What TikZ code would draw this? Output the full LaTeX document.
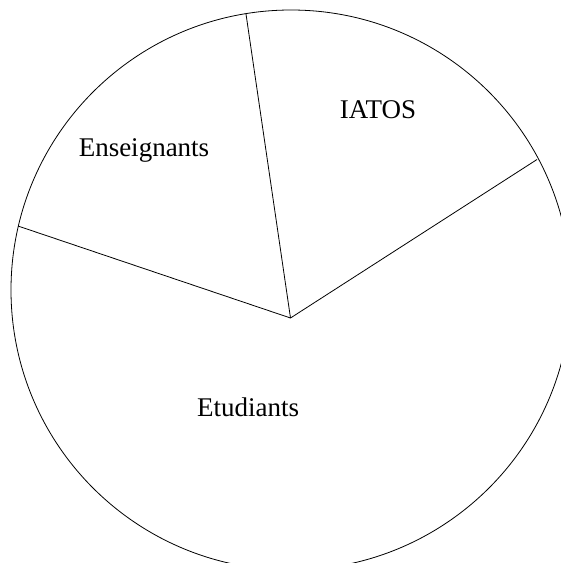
\documentclass[tikz,border=0pt]{standalone}
\usepackage{fontspec}
\setmainfont{Liberation Serif}
\begin{document}
\begin{tikzpicture}[x=1pt,y=-1pt,
  edge/.style={draw=black,line width=0.8pt},
  lbl/.style={anchor=base,inner sep=0pt,font=\fontsize{27}{30}\selectfont}]
\useasboundingbox (0,0) rectangle (561,563);
\clip (0,0) rectangle (561,563);
\coordinate (O) at (291,290);
\coordinate (P) at (290.5,318);
\coordinate (A) at (246,14);
\coordinate (B) at (537,159.5);
\coordinate (C) at (18,226);
\draw[edge] (O) circle[radius=280];
\draw[edge] (P) -- (A);
\draw[edge] (P) -- (B);
\draw[edge] (P) -- (C);
\node[lbl] (iatos) at (378,118.3) {IATOS};
\node[lbl] (ens) at (144,156.7) {Enseignants};
\node[lbl] (etu) at (248,416.7) {Etudiants};
\end{tikzpicture}
\end{document}
